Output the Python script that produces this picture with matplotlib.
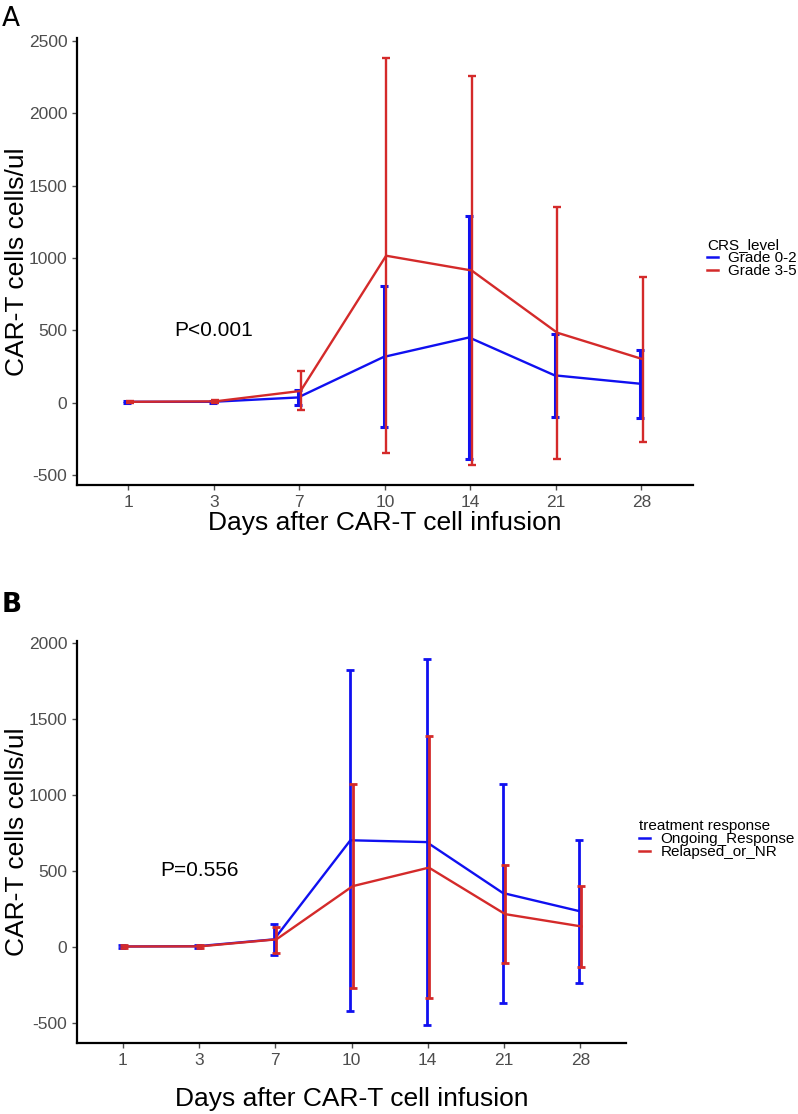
import numpy as np
import matplotlib.pyplot as plt
from matplotlib.lines import Line2D

plt.rcParams['font.family'] = ['Liberation Sans', 'DejaVu Sans']
plt.rcParams['axes.unicode_minus'] = False

days = ['1', '3', '7', '10', '14', '21', '28']

# panel A: CRS level
crs_low_mean = [5, 5, 35, 315, 450, 188, 130]
crs_low_lo = [-2, -3, -15, -168, -388, -97, -105]
crs_low_hi = [12, 13, 85, 808, 1292, 475, 366]
crs_high_mean = [5, 8, 80, 1015, 913, 483, 300]
crs_high_lo = [-3, 0, -55, -348, -430, -390, -274]
crs_high_hi = [13, 16, 215, 2380, 2260, 1355, 870]

# panel B: treatment response
resp_on_mean = [3, 5, 50, 702, 690, 355, 236]
resp_on_lo = [-5, -4, -50, -420, -512, -366, -235]
resp_on_hi = [10, 14, 150, 1825, 1893, 1074, 702]
resp_rel_mean = [3, 4, 50, 400, 522, 216, 135]
resp_rel_lo = [-4, -4, -40, -272, -338, -106, -134]
resp_rel_hi = [10, 12, 132, 1070, 1385, 540, 400]

BLUE = '#1010F0'
RED = '#D42A2A'
GREY = '#4D4D4D'


def draw_panel(ax, series, legend_title, ptext, yticks, legend_xy, ylab_x, xpad):
    x = np.arange(len(days))
    allv = []
    for (mean, lo, hi, col, lab, off, elw) in series:
        mean = np.array(mean)
        lo = np.array(lo)
        hi = np.array(hi)
        ax.plot(x + off, mean, color=col, lw=1.7, zorder=3)
        ax.errorbar(x + off, mean, yerr=[mean - lo, hi - mean], fmt='none',
                    ecolor=col, elinewidth=elw, capsize=3.2, capthick=elw, zorder=3)
        allv += list(lo) + list(hi)
    lo_, hi_ = min(allv), max(allv)
    pad = (hi_ - lo_) * 0.05
    ax.set_ylim(lo_ - pad, hi_ + pad)
    ax.set_xlim(-0.6, len(days) - 0.4)
    ax.set_xticks(x)
    ax.set_xticklabels(days)
    ax.set_yticks(yticks)
    ax.tick_params(colors=GREY, labelsize=12.5, length=3.5, width=1, labelcolor=GREY)
    for s in ['top', 'right']:
        ax.spines[s].set_visible(False)
    for s in ['left', 'bottom']:
        ax.spines[s].set_linewidth(1.6)
        ax.spines[s].set_color('black')
    ax.set_xlabel('Days after CAR-T cell infusion', fontsize=19, labelpad=xpad)
    ax.set_ylabel('CAR-T cells cells/ul', fontsize=19)
    ax.yaxis.set_label_coords(ylab_x, 0.5)
    ax.text(1, 500, ptext, fontsize=15, ha='center', va='center')
    handles = [Line2D([], [], color=s[3], lw=1.8) for s in series]
    leg = ax.legend(handles, [s[4] for s in series], title=legend_title,
                    loc='upper left', bbox_to_anchor=legend_xy, bbox_transform=fig.transFigure,
                    frameon=False, fontsize=11, title_fontsize=11, handlelength=0.7,
                    handletextpad=0.7, labelspacing=-0.05, borderpad=0, borderaxespad=0)
    leg._legend_box.align = 'left'


fig = plt.figure(figsize=(7.98, 11.14), dpi=100)
axA = fig.add_axes([0.0965, 0.5646, 0.7715, 0.4013])
axB = fig.add_axes([0.0965, 0.0637, 0.688, 0.3609])

draw_panel(axA,
           [(crs_low_mean, crs_low_lo, crs_low_hi, BLUE, 'Grade 0-2', -0.015, 2.2),
            (crs_high_mean, crs_high_lo, crs_high_hi, RED, 'Grade 3-5', 0.015, 1.7)],
           'CRS_level', 'P<0.001', [-500, 0, 500, 1000, 1500, 2000, 2500],
           (707 / 798, 1 - 238 / 1114), -0.078, 1)
draw_panel(axB,
           [(resp_on_mean, resp_on_lo, resp_on_hi, BLUE, 'Ongoing_Response', -0.015, 2.0),
            (resp_rel_mean, resp_rel_lo, resp_rel_hi, RED, 'Relapsed_or_NR', 0.015, 2.0)],
           'treatment response', 'P=0.556', [-500, 0, 500, 1000, 1500, 2000],
           (639 / 798, 1 - 819 / 1114), -0.087, 14)

fig.text(0.002, 0.995, 'A', fontsize=19, va='top', ha='left',
         family=['Liberation Sans Narrow', 'DejaVu Sans'])
fig.text(0.002, 1 - 592 / 1114, 'B', fontsize=19, va='top', ha='left', fontweight='bold',
         family=['Liberation Sans Narrow', 'DejaVu Sans'])

fig.savefig('out.png', dpi=100)
